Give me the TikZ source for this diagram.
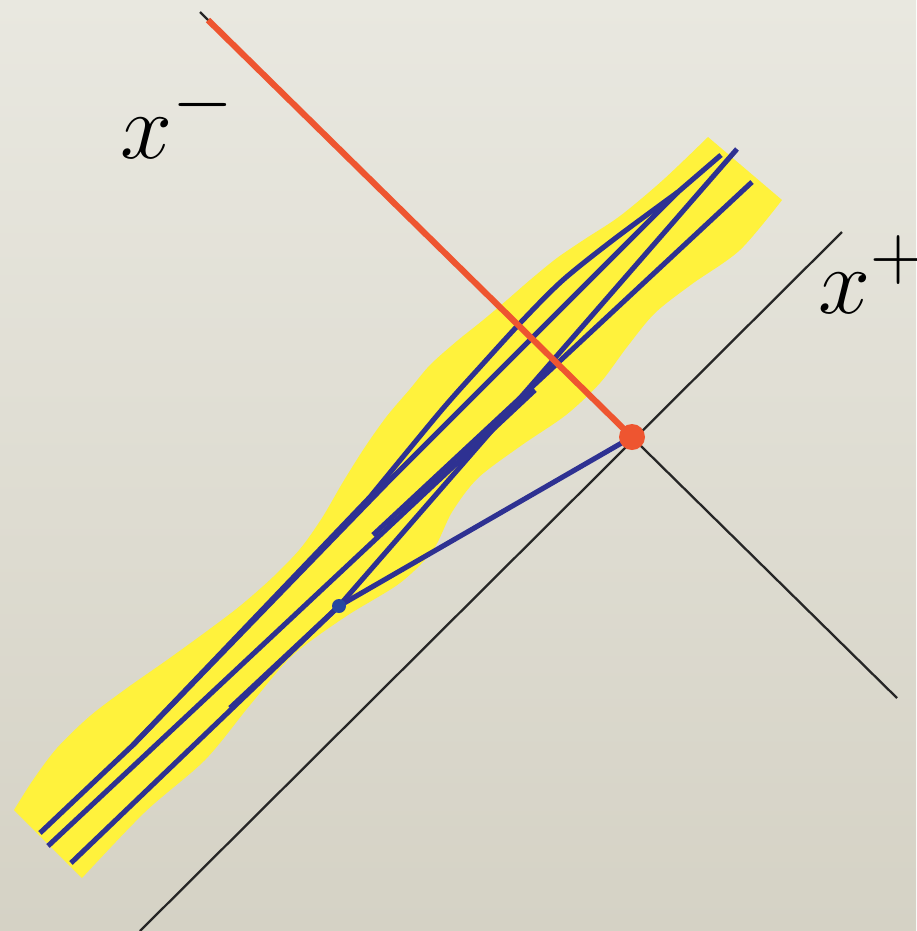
\documentclass[tikz,border=0pt]{standalone}
\usepackage{xcolor}
\definecolor{colBgTop}{RGB}{233,232,224}
\definecolor{colBgBot}{RGB}{213,210,197}
\definecolor{colBand}{RGB}{255,242,60}
\definecolor{colParton}{RGB}{46,49,146}
\definecolor{colVertex}{RGB}{38,72,160}
\definecolor{colHit}{RGB}{238,85,48}
\usepackage{tikz}
\usetikzlibrary{calc}
\tikzset{
	lightcone/.style={draw=black!85, line width=0.65pt},
	parton/.style={draw=colParton, line width=1.45pt, line join=round},
	hitline/.style={draw=colHit, line width=1.75pt},
	axislabel/.style={inner sep=0pt, anchor=base west, font=\fontsize{24.88}{30}\selectfont},
}

\begin{document}
\begin{tikzpicture}[
		x=0.1mm, y=-0.1mm,
		hitdot/.style={circle, fill=colHit, inner sep=0pt, minimum size=2.6mm},
		vertexdot/.style={circle, fill=colVertex, inner sep=0pt, minimum size=1.4mm}
	]
		% background
		\fill[top color=colBgTop, bottom color=colBgBot] (0,0) rectangle (916,931);
		\useasboundingbox (0,0) rectangle (916,931);
		\clip (0,0) rectangle (916,931);

		% points
		\coordinate (hit) at (632,437);
		\coordinate (hitStart) at (208,20);
		\coordinate (xmTop) at (200,12);
		\coordinate (xmEnd) at (897,698);
		\coordinate (xpTop) at (842,232);
		\coordinate (xpEnd) at (140,931);
		\coordinate (E1) at (40,833);
		\coordinate (E2) at (48,846);
		\coordinate (E3) at (71,863);
		\coordinate (C) at (133,745);
		\coordinate (J1) at (370,497);
		\coordinate (J2) at (390,480);
		\coordinate (K) at (678,192);
		\coordinate (T1) at (721,155);
		\coordinate (T2) at (737,149);
		\coordinate (T3) at (752,182);
		\coordinate (D) at (339,606);
		\coordinate (tickA) at (373,535);
		\coordinate (tickB) at (535,390);
		\coordinate (tickC) at (230,708);

		% hadron band
		\fill[colBand] plot[smooth, tension=0.5] coordinates {(14,810) (33,780) (57,748) (90,716) (127,688) (167,660) (207,631) (240,606) (273,577) (300,549) (322,518) (343,482) (365,447) (387,416) (410,389) (430,365) (457,341) (482,321) (507,300) (530,280) (557,258) (585,239) (620,216) (663,180) (708,137)}
			-- plot[smooth, tension=0.5] coordinates {(782,200) (740,250) (692,284) (655,313) (627,347) (600,383) (566,415) (522,445) (478,478) (452,512) (433,550) (400,583) (345,617) (292,656) (250,705) (205,760) (145,812) (82,878)}
			-- cycle;

		% light-cone axes
		\draw[lightcone] (xmTop) -- (xmEnd);
		\draw[lightcone] (xpEnd) -- (xpTop);
		\node[axislabel] (xminus) at (120,158) {\scalebox{1.07}{$x^{-}$}};
		\node[axislabel] (xplus) at (818,313) {\scalebox{1.07}{$x^{+}$}};

		% partons
		\draw[parton] (E1) -- (C) -- plot[smooth, tension=0.5] coordinates {(J1) (440,412) (480,367) (523,320) (563,280) (613,240) (K)} -- (T1);
		\draw[parton] (C) -- (J2) -- (K);
		\draw[parton] (E2) -- (tickB);
		\draw[parton] (tickA) -- (T3);
		\draw[parton] (E3) -- (D) -- (T2);
		\draw[parton] (tickC) -- (D);
		\draw[parton] (D) -- (hit);

		% probe
		\draw[hitline] (hitStart) -- (hit);
		\node[hitdot] (hitnode) at (hit) {};
		\node[vertexdot] (vertex) at (D) {};
	\end{tikzpicture}
\end{document}
